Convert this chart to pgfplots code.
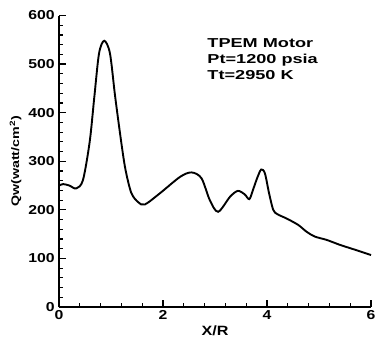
\documentclass[border=0pt]{standalone}
\usepackage{fontspec}
\setmainfont{Liberation Sans}
\usepackage{pgfplots}
\pgfplotsset{compat=1.18}
\begin{document}
\begin{tikzpicture}
\begin{axis}[
  scale only axis, width=312bp, height=291.5bp,
  xmin=0, xmax=6, ymin=0, ymax=600,
  axis x line=bottom, axis y line=left,
  axis line style={-, line width=1.6pt},
  xtick={0,2,4,6}, ytick={0,100,...,600},
  minor x tick num=4, minor y tick num=4,
  tick align=inside,
  major tick length=7bp, minor tick length=4bp,
  tick style={line width=1.2pt, black},
  /pgf/number format/assume math mode=true,
  ticklabel style={font=\fontsize{13}{13}\selectfont\bfseries, xscale=1.22},
  xlabel={X/R}, ylabel={Qw(watt/cm\textsuperscript{2})},
  xlabel style={font=\fontsize{13.5}{13.5}\selectfont\bfseries, xscale=1.2, at={(axis description cs:0.5,0)}, anchor=north, yshift=-15bp},
  ylabel style={font=\fontsize{11}{11}\selectfont\bfseries, xscale=1.3, at={(axis description cs:0,0.5)}, anchor=south, yshift=34bp},
  clip=false,
]
\addplot[black, line width=1.9pt, smooth, tension=0.5] coordinates {
(0,250) (0.08,253) (0.2,250) (0.33,244) (0.46,261) (0.59,340) (0.68,433) (0.77,522)
(0.87,548) (0.98,522) (1.08,433) (1.20,337) (1.28,282) (1.39,235)
(1.52,216) (1.65,211) (1.94,234) (2.33,268) (2.55,277) (2.74,265)
(2.90,220) (3.06,196) (3.29,227) (3.44,239) (3.57,232)
(3.66,222) (3.73,241) (3.82,268) (3.89,283) (3.96,275) (4.04,234) (4.12,200)
(4.20,191) (4.38,182) (4.60,169) (4.76,155) (4.92,145) (5.15,138) (5.40,128)
(5.66,119) (6.0,107)
};
\node[anchor=north west, align=left, font=\fontsize{13}{16}\selectfont\bfseries, xscale=1.4, inner sep=0pt] at (axis cs:2.85,553) {TPEM Motor\\Pt=1200 psia\\Tt=2950 K};
\end{axis}
\pgfresetboundingbox
\path (-59bp,-32bp) rectangle (318bp,307bp);
\end{tikzpicture}
\end{document}
